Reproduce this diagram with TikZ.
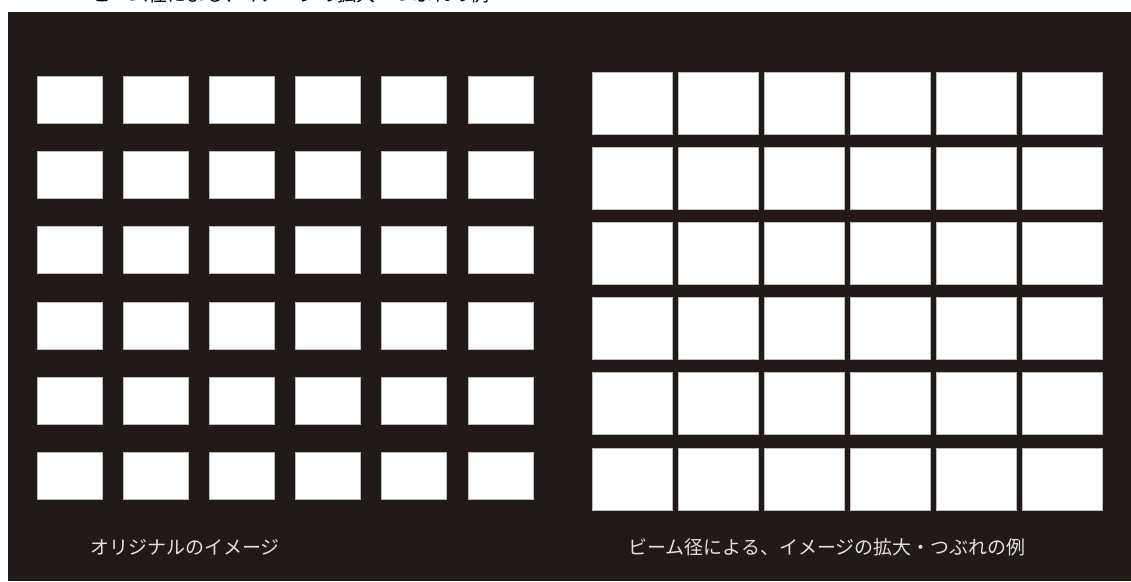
\documentclass[tikz,border=0pt]{standalone}
\usepackage{fontspec}
\setmainfont{Noto Sans CJK JP}
\usetikzlibrary{positioning}

\definecolor{bgdark}{RGB}{35,25,22}
\definecolor{capgray}{RGB}{225,225,225}

\begin{document}
\begin{tikzpicture}[
        x=0.025cm, y=-0.025cm,
        font=\fontsize{13.5pt}{15pt}\selectfont,
        origbox/.style={draw=gray!55, line width=0.5pt, fill=white, inner sep=0pt, minimum width=1.625cm, minimum height=1.175cm},
        bigbox/.style={draw=gray!55, line width=0.5pt, fill=white, inner sep=0pt, minimum width=2cm, minimum height=1.55cm},
        caption/.style={text=capgray, inner sep=0pt}
    ]

    % ========================================================
    % 0. BINGKAI & LATAR
    % ========================================================
    \useasboundingbox (0,0) rectangle (1131,581);
    \fill[white] (0,0) rectangle (1131,581);
    \fill[bgdark] (8,12) rectangle (1131,581);

    % Judul terpotong di atas
    \node[anchor=south west, inner sep=0pt] (title) at (92,3) {ビーム径による、イメージの拡大・つぶれの例};

    % ========================================================
    % 1. GRID ASLI (KIRI)
    % ========================================================
    \foreach \r in {0,...,5} {
        \foreach \c in {0,...,5} {
            \node[origbox] (orig-\r-\c) at ({69.5+86.2*\c}, {99.5+75.3*\r}) {};
        }
    }
    \node[caption] (origlabel) at (185,547) {オリジナルのイメージ};

    % ========================================================
    % 2. GRID DIPERBESAR (KANAN)
    % ========================================================
    \foreach \r in {0,...,5} {
        \foreach \c in {0,...,5} {
            \node[bigbox] (big-\r-\c) at ({632+86*\c}, {103+75.2*\r}) {};
        }
    }
    \node[caption] (biglabel) at (827,547) {ビーム径による、イメージの拡大・つぶれの例};

\end{tikzpicture}
\end{document}
